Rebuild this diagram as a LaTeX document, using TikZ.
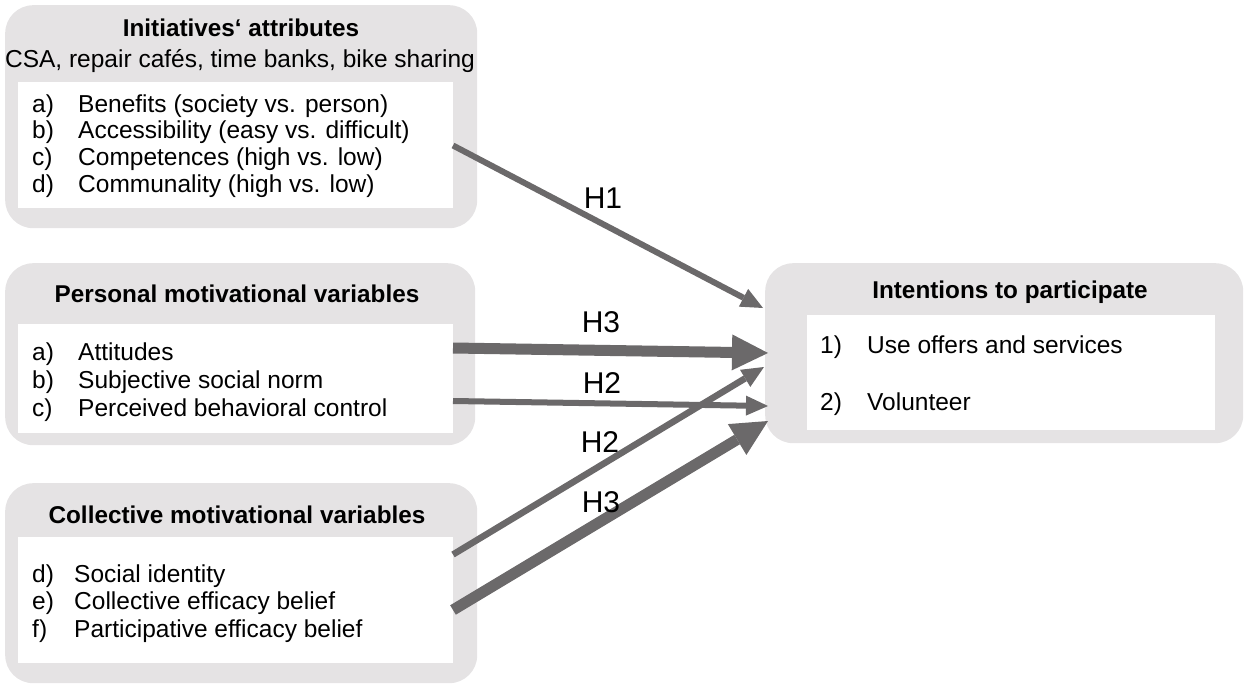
\documentclass[tikz,border=0pt]{standalone}
\usepackage{fontspec}
\setmainfont{Liberation Sans}
\usetikzlibrary{arrows.meta}
\definecolor{boxgray}{HTML}{E5E3E4}
\definecolor{arrgray}{HTML}{6B696A}
\begin{document}
\begin{tikzpicture}[x=1pt,y=-1pt,
  outerbox/.style={fill=boxgray, draw=none, rounded corners=28pt, inner sep=0pt, anchor=north west},
  innerbox/.style={fill=white, draw=none, inner sep=0pt, anchor=north west},
  ttl/.style={font=\bfseries\fontsize{24.3}{28}\selectfont, anchor=base, inner sep=0pt},
  sub/.style={font=\fontsize{24.5}{28}\selectfont, anchor=base, inner sep=0pt},
  itm/.style={font=\fontsize{24.5}{28}\selectfont, anchor=base west, inner sep=0pt},
  hlab/.style={font=\fontsize{30}{34}\selectfont, anchor=base, inner sep=0pt},
  thinarr/.style={draw=arrgray, line width=6pt, -{Triangle[length=22pt,width=20pt,line width=0pt]}},
  thickarr/.style={draw=arrgray, line width=11pt, -{Triangle[length=36pt,width=36pt,line width=0pt]}}
]
\useasboundingbox (0,0) rectangle (1248,688);

% boxes
\node[outerbox, minimum width=472pt, minimum height=223pt] (out1) at (5,5) {};
\node[innerbox, minimum width=435pt, minimum height=126pt] (in1) at (18,82) {};
\node[outerbox, minimum width=470pt, minimum height=182pt] (out2) at (5,263) {};
\node[innerbox, minimum width=435pt, minimum height=109pt] (in2) at (18,324) {};
\node[outerbox, minimum width=472pt, minimum height=200pt] (out3) at (5,483) {};
\node[innerbox, minimum width=435pt, minimum height=126pt] (in3) at (18,537) {};
\node[outerbox, minimum width=478pt, minimum height=180pt] (out4) at (765,263) {};
\node[innerbox, minimum width=408pt, minimum height=115pt] (in4) at (807,315) {};

% titles
\node[ttl] (t1) at (241,36) {Initiatives‘ attributes};
\node[sub] (t1b) at (240,67) {CSA, repair cafés, time banks, bike sharing};
\node[ttl] (t2) at (237,302) {Personal motivational variables};
\node[ttl] (t3) at (237,523) {Collective motivational variables};
\node[ttl] (t4) at (1010,298) {Intentions to participate};

% box 1 items
\node[itm] (l1a) at (32,112) {a)};   \node[itm] (i1a) at (78,112) {Benefits (society vs. person)};
\node[itm] (l1b) at (32,138.5) {b)}; \node[itm] (i1b) at (78,138.5) {Accessibility (easy vs. difficult)};
\node[itm] (l1c) at (32,165) {c)};   \node[itm] (i1c) at (78,165) {Competences (high vs. low)};
\node[itm] (l1d) at (32,192) {d)};   \node[itm] (i1d) at (78,192) {Communality (high vs. low)};

% box 2 items
\node[itm] (l2a) at (32,360) {a)}; \node[itm] (i2a) at (78,360) {Attitudes};
\node[itm] (l2b) at (32,388) {b)}; \node[itm] (i2b) at (78,388) {Subjective social norm};
\node[itm] (l2c) at (32,416) {c)}; \node[itm] (i2c) at (78,416) {Perceived behavioral control};

% box 3 items
\node[itm] (l3d) at (32,582) {d)}; \node[itm] (i3d) at (74,582) {Social identity};
\node[itm] (l3e) at (32,609) {e)}; \node[itm] (i3e) at (74,609) {Collective efficacy belief};
\node[itm] (l3f) at (32,637) {f)}; \node[itm] (i3f) at (74,637) {Participative efficacy belief};

% box 4 items
\node[itm] (l41) at (820,353) {1)}; \node[itm] (i41) at (867,353) {Use offers and services};
\node[itm] (l42) at (820,410) {2)}; \node[itm] (i42) at (867,410) {Volunteer};

% arrow end points
\coordinate (h1s) at (453,145.5);  \coordinate (h1e) at (763,308);
\coordinate (h3as) at (453,348);   \coordinate (h3ae) at (768,353);
\coordinate (h2as) at (453,401);   \coordinate (h2ae) at (768,406);
\coordinate (h2bs) at (453,554.5); \coordinate (h2be) at (764,367);
\coordinate (h3bs) at (453,610);   \coordinate (h3be) at (768,421);

% arrows
\draw[thinarr] (h1s) -- (h1e);
\draw[thickarr] (h3as) -- (h3ae);
\draw[thinarr] (h2as) -- (h2ae);
\draw[thinarr, line width=6.5pt] (h2bs) -- (h2be);
\draw[thickarr] (h3bs) -- (h3be);

% labels
\node[hlab] (lh1) at (603,208) {H1};
\node[hlab] (lh3a) at (601,332) {H3};
\node[hlab] (lh2a) at (602,393) {H2};
\node[hlab] (lh2b) at (600,452) {H2};
\node[hlab] (lh3b) at (601,512) {H3};
\end{tikzpicture}
\end{document}
